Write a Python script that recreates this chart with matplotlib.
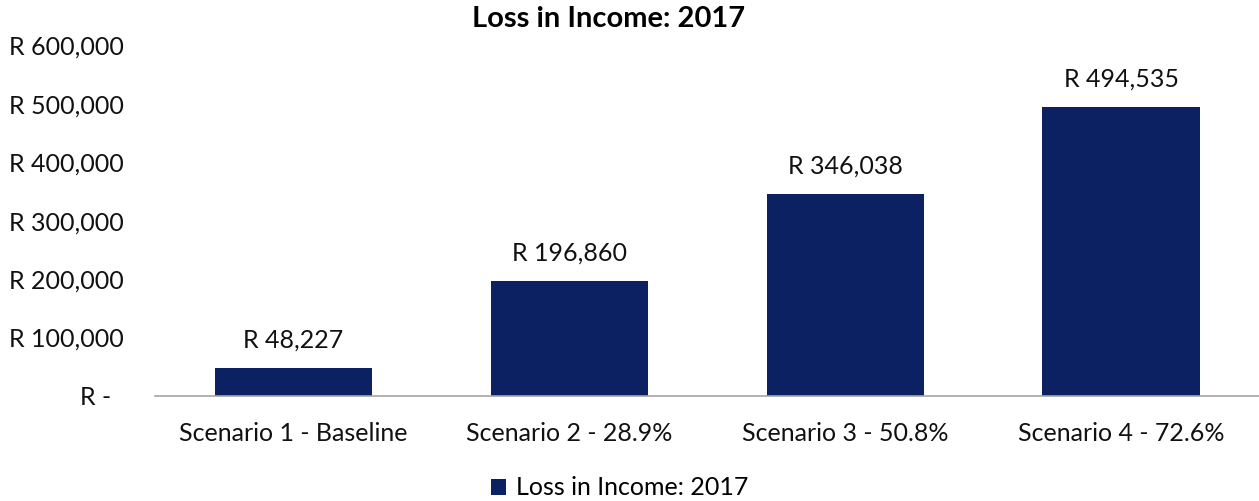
import matplotlib
matplotlib.use("Agg")
import matplotlib.pyplot as plt
from matplotlib.ticker import FuncFormatter

categories = ["Scenario 1 - Baseline", "Scenario 2 - 28.9%", "Scenario 3 - 50.8%", "Scenario 4 - 72.6%"]
loss_2017 = [48227, 196860, 346038, 494535]
y_ticks = [0, 100000, 200000, 300000, 400000, 500000, 600000]
series_name = "Loss in Income: 2017"
title = "Loss in Income: 2017"

plt.rcParams["font.family"] = ["Lato", "DejaVu Sans"]
bar_color = "#0B2161"
text_color = "#111111"
fs = 18

fig = plt.figure(figsize=(12.59, 5.01), dpi=100)
ax = fig.add_axes([0.1235, 0.2096, 0.8765, 0.700])

x = range(len(categories))
bars = ax.bar(x, loss_2017, width=0.57, color=bar_color, label=series_name)

for xi, v in zip(x, loss_2017):
    ax.annotate(f"R {v:,.0f}", (xi, v), xytext=(0, 20), textcoords="offset points",
                ha="center", va="center", fontsize=fs, color=text_color)

ax.set_xlim(-0.5, len(categories) - 0.5)
ax.set_ylim(0, 600000)
ax.set_yticks(y_ticks)


def money(v, _pos):
    if v == 0:
        return "R -  "
    return f"R {v:,.0f}"


ax.yaxis.set_major_formatter(FuncFormatter(money))
ax.set_xticks(list(x))
ax.set_xticklabels(categories)
ax.tick_params(axis="y", length=0, pad=23, labelsize=fs, labelcolor=text_color)
ax.tick_params(axis="x", length=0, pad=19, labelsize=fs, labelcolor=text_color)

for side in ("top", "right", "left"):
    ax.spines[side].set_visible(False)
ax.spines["bottom"].set_color("#A6A6A6")
ax.spines["bottom"].set_linewidth(1.2)

fig.text(0.483, 0.962, title, ha="center", va="center", fontsize=21, fontweight="bold")

fig.legend(handles=[bars], labels=[series_name], loc="center", bbox_to_anchor=(0.492, 0.026),
           frameon=False, fontsize=fs, handlelength=0.6, handleheight=0.6, handletextpad=0.4,
           borderpad=0)

fig.savefig("out.png", dpi=100, facecolor="white")
